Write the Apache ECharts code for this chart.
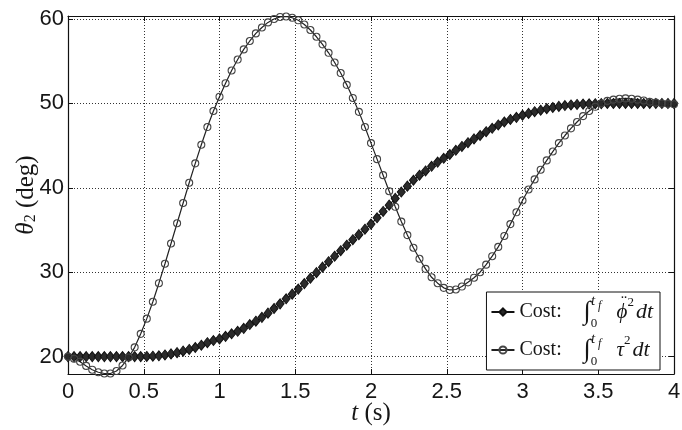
<!DOCTYPE html>
<html>
<head>
<meta charset="utf-8">
<title>theta2 trajectories</title>
<script src="https://cdn.jsdelivr.net/npm/echarts@6/dist/echarts.min.js"></script>
<style>
  html, body { margin: 0; padding: 0; background: #fff; }
  #chart { width: 682px; height: 430px; }
</style>
</head>
<body>
<div id="chart"></div>
<script>
// time samples (s)
const t = [
  0.00, 0.04, 0.08, 0.12, 0.16, 0.20, 0.24, 0.28, 0.32, 0.36,
  0.40, 0.44, 0.48, 0.52, 0.56, 0.60, 0.64, 0.68, 0.72, 0.76,
  0.80, 0.84, 0.88, 0.92, 0.96, 1.00, 1.04, 1.08, 1.12, 1.16,
  1.20, 1.24, 1.28, 1.32, 1.36, 1.40, 1.44, 1.48, 1.52, 1.56,
  1.60, 1.64, 1.68, 1.72, 1.76, 1.80, 1.84, 1.88, 1.92, 1.96,
  2.00, 2.04, 2.08, 2.12, 2.16, 2.20, 2.24, 2.28, 2.32, 2.36,
  2.40, 2.44, 2.48, 2.52, 2.56, 2.60, 2.64, 2.68, 2.72, 2.76,
  2.80, 2.84, 2.88, 2.92, 2.96, 3.00, 3.04, 3.08, 3.12, 3.16,
  3.20, 3.24, 3.28, 3.32, 3.36, 3.40, 3.44, 3.48, 3.52, 3.56,
  3.60, 3.64, 3.68, 3.72, 3.76, 3.80, 3.84, 3.88, 3.92, 3.96,
  4.00
];

// theta2 (deg), cost on phi-double-dot squared
const thetaPhiCost = [
  20.0, 20.0, 20.0, 20.0, 20.0, 20.0, 20.0, 20.0, 20.0, 20.0,
  20.0, 20.0, 20.0, 20.02, 20.05, 20.1, 20.2, 20.32, 20.47, 20.65,
  20.85, 21.08, 21.35, 21.65, 21.9, 22.1, 22.4, 22.7, 23.0, 23.35,
  23.8, 24.2, 24.65, 25.15, 25.7, 26.25, 26.85, 27.4, 28.0, 28.65,
  29.3, 29.95, 30.6, 31.25, 31.9, 32.55, 33.2, 33.85, 34.45, 35.1,
  35.7, 36.45, 37.2, 37.95, 38.75, 39.5, 40.2, 40.9, 41.5, 42.0,
  42.55, 43.05, 43.5, 43.95, 44.45, 44.9, 45.35, 45.8, 46.2, 46.65,
  47.05, 47.45, 47.8, 48.1, 48.35, 48.6, 48.82, 49.02, 49.2, 49.38,
  49.52, 49.65, 49.75, 49.82, 49.88, 49.92, 49.95, 49.97, 49.98, 50.0,
  50.0, 50.0, 50.0, 50.0, 50.0, 50.0, 50.0, 50.0, 50.0, 50.0,
  50.0
];

// theta2 (deg), cost on tau squared
const thetaTauCost = [
  20.0, 19.75, 19.4, 18.9, 18.45, 18.15, 18.0, 18.0, 18.3, 18.95,
  19.9, 21.1, 22.7, 24.5, 26.5, 28.7, 31.0, 33.4, 35.8, 38.2,
  40.6, 42.9, 45.1, 47.2, 49.1, 50.8, 52.4, 53.9, 55.2, 56.4,
  57.4, 58.3, 59.0, 59.6, 60.0, 60.25, 60.3, 60.15, 59.85, 59.35,
  58.7, 57.9, 57.0, 56.0, 54.85, 53.6, 52.2, 50.65, 49.0, 47.2,
  45.3, 43.4, 41.5, 39.6, 37.75, 36.0, 34.4, 32.9, 31.6, 30.4,
  29.4, 28.7, 28.15, 27.9, 27.95, 28.3, 28.8, 29.35, 30.0, 30.9,
  31.9, 33.0, 34.3, 35.7, 37.1, 38.5, 39.8, 41.0, 42.15, 43.25,
  44.3, 45.3, 46.2, 47.05, 47.8, 48.5, 49.1, 49.6, 50.0, 50.3,
  50.45, 50.55, 50.6, 50.55, 50.45, 50.35, 50.2, 50.1, 50.0, 49.95,
  49.9
];

const xTicks = { min: 0, max: 4, interval: 0.5 };
const yRange = { min: 17.94, max: 60.36 };

const pair = (ys) => t.map((x, i) => [x, ys[i]]);

const SANS = 'Liberation Sans, Arial, Helvetica, sans-serif';
const SERIF = 'Liberation Serif, DejaVu Serif, serif';
const INK = '#161616';

const chart = echarts.init(document.getElementById('chart'), null, { renderer: 'canvas' });

const frameLine = { show: true, onZero: false, lineStyle: { color: '#111', width: 1.2 } };
const innerTick = { show: true, inside: true, length: 5, lineStyle: { color: '#111', width: 1 } };
const dotted = { show: true, lineStyle: { color: '#333', width: 1, type: [1, 2] } };

// only the multiples of ten carry a label on the theta axis
const tenOnly = (v) => (Math.abs(v / 10 - Math.round(v / 10)) < 1e-6 ? String(Math.round(v)) : '');

// rich-text pieces for the integral expressions in the legend
const mathRich = {
  r: { fontFamily: SERIF, fontSize: 20, color: INK },
  int: { fontFamily: SERIF, fontSize: 26, color: INK, padding: [0, 0, 0, 22] },
  lo: { fontFamily: SERIF, fontSize: 13, color: INK, verticalAlign: 'bottom', width: 0.1 },
  hi: { fontFamily: SERIF, fontSize: 15, fontStyle: 'italic', color: INK, verticalAlign: 'top' },
  hs: { fontFamily: SERIF, fontSize: 12, fontStyle: 'italic', color: INK, verticalAlign: 'top', padding: [6, 0, 0, 3] },
  dd: { fontFamily: SERIF, fontSize: 18, color: INK, verticalAlign: 'top', width: 0.1, padding: [0, 0, 0, 15] },
  v: { fontFamily: SERIF, fontSize: 21, fontStyle: 'italic', color: INK },
  g: { fontFamily: SERIF, fontSize: 21, fontStyle: 'italic', color: INK, padding: [0, 0, 0, 15] },
  sup: { fontFamily: SERIF, fontSize: 13, color: INK, verticalAlign: 'top', padding: [2, 2, 0, 0] },
  dt: { fontFamily: SERIF, fontSize: 22, fontStyle: 'italic', color: INK }
};

const legendText = {
  phi: '{r|Cost:}{int|∫}{lo|0}{hi|t}{hs|f}{dd| ¨}{v|ϕ}{sup|2}{dt|dt}',
  tau: '{r|Cost:}{int|∫}{lo|0}{hi|t}{hs|f}{g|τ}{sup|2}{dt|dt}'
};

chart.setOption({
  backgroundColor: '#fff',
  animation: false,
  grid: { left: 68, right: 8, top: 16, bottom: 56, containLabel: false, outerBoundsMode: 'none' },
  legend: {
    orient: 'vertical',
    right: 22,
    bottom: 60,
    backgroundColor: '#fff',
    borderColor: '#111',
    borderWidth: 1,
    borderRadius: 0,
    padding: [2, 7, 2, 4],
    itemGap: 2,
    itemWidth: 23,
    itemHeight: 9,
    data: ['phi', 'tau'],
    formatter: (name) => legendText[name],
    textStyle: { fontFamily: SERIF, fontSize: 20, color: INK, lineHeight: 36, rich: mathRich }
  },
  xAxis: [
    {
      type: 'value', ...xTicks,
      axisLine: frameLine, axisTick: innerTick, splitLine: dotted,
      axisLabel: { fontFamily: SANS, fontSize: 22, color: INK, margin: 7 },
      name: '{i|t} (s)', nameLocation: 'middle', nameGap: 27, nameMoveOverlap: false,
      nameTextStyle: { fontFamily: SERIF, fontSize: 25, color: INK,
        rich: { i: { fontFamily: SERIF, fontSize: 25, fontStyle: 'italic', color: INK } } }
    },
    {
      type: 'value', position: 'top', ...xTicks,
      axisLine: frameLine, axisTick: innerTick, splitLine: { show: false }, axisLabel: { show: false }
    }
  ],
  yAxis: [
    {
      type: 'value', ...yRange, splitNumber: 4,
      axisLine: frameLine, axisTick: innerTick, splitLine: dotted,
      axisLabel: { fontFamily: SANS, fontSize: 22, color: INK, margin: 4, formatter: tenOnly },
      name: '{i|θ}{s|2} (deg)', nameLocation: 'middle', nameGap: 29, nameRotate: 90, nameMoveOverlap: false,
      nameTextStyle: { fontFamily: SERIF, fontSize: 25, color: INK,
        rich: {
          i: { fontFamily: SERIF, fontSize: 25, fontStyle: 'italic', color: INK },
          s: { fontFamily: SERIF, fontSize: 16, color: INK, verticalAlign: 'bottom', padding: [9, 0, 0, 0] }
        } }
    },
    {
      type: 'value', position: 'right', ...yRange, splitNumber: 4,
      axisLine: frameLine, axisTick: innerTick, splitLine: { show: false }, axisLabel: { show: false }
    }
  ],
  series: [
    {
      name: 'phi', type: 'line', xAxisIndex: 0, yAxisIndex: 0,
      data: pair(thetaPhiCost),
      symbol: 'diamond', symbolSize: [8, 10], showAllSymbol: true,
      lineStyle: { color: '#111', width: 1.2 },
      itemStyle: { color: '#2a2a2a', borderColor: '#111', borderWidth: 1 }
    },
    {
      name: 'tau', type: 'line', xAxisIndex: 0, yAxisIndex: 0,
      data: pair(thetaTauCost),
      symbol: 'circle', symbolSize: 7, showAllSymbol: true,
      lineStyle: { color: '#222', width: 1.2 },
      itemStyle: { color: 'rgba(0,0,0,0)', borderColor: '#444', borderWidth: 1.1 }
    }
  ]
});
</script>
</body>
</html>
